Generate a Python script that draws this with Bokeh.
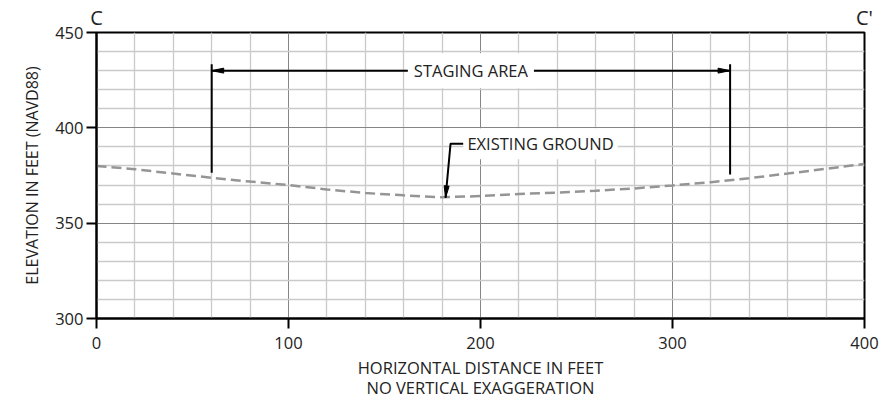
from bokeh.plotting import figure
from bokeh.models import Range1d, FixedTicker, Label, LinearAxis
from bokeh.embed import file_html
from bokeh.resources import INLINE

# ---- data ----
ground_x = [0, 20, 40, 60, 80, 100, 120, 140, 160, 180, 200, 220, 240, 260, 280, 300, 320, 340, 360, 380, 400]
ground_y = [380.0, 378.3, 376.0, 373.8, 371.8, 370.0, 367.7, 365.8, 364.6, 363.6, 364.2, 365.3, 366.0,
            367.0, 368.2, 369.8, 371.5, 373.6, 376.0, 378.5, 381.1]

staging_x = [60, 330]
staging_bottom = [376.4, 375.5]
staging_top = [433.4, 433.4]
staging_arrow_y = 430
staging_label = "STAGING AREA"
staging_label_x = 195

ground_label = "EXISTING GROUND"
leader_x = [191.1, 184.4, 181.8]
leader_y = [391.7, 391.7, 363.3]

x_ticks = [0, 100, 200, 300, 400]
x_minor = [v for v in range(0, 401, 20) if v % 100]
y_ticks = [300, 350, 400, 450]
y_minor = [v for v in range(300, 451, 10) if v % 50]

section_labels = ["C", "C'"]
section_x = [0, 400]

FONT = "Open Sans"
TXT = "#222222"
FS = "16.5px"

p = figure(width=882, height=402, output_backend="svg", toolbar_location=None,
           x_range=Range1d(0, 400), y_range=Range1d(300, 450))
p.min_border_left = 96
p.min_border_top = 32
p.min_border_right = 18
p.min_border_bottom = 82
p.background_fill_color = "white"
p.border_fill_color = "white"
p.outline_line_color = "black"
p.outline_line_width = 2

xt = FixedTicker(ticks=x_ticks, minor_ticks=x_minor)
yt = FixedTicker(ticks=y_ticks, minor_ticks=y_minor)
p.xaxis.ticker = xt
p.yaxis.ticker = yt
p.xgrid.ticker = xt
p.ygrid.ticker = yt
for g in (p.xgrid, p.ygrid):
    g.grid_line_color = "#858585"
    g.grid_line_width = 1
    g.minor_grid_line_color = "#cacaca"
    g.minor_grid_line_width = 1.3

for ax in (p.xaxis, p.yaxis):
    ax.axis_line_color = "black"
    ax.axis_line_width = 2
    ax.major_tick_line_color = "black"
    ax.major_tick_line_width = 2
    ax.major_tick_out = 10
    ax.major_tick_in = 0
    ax.minor_tick_line_color = None
    ax.major_label_text_font = FONT
    ax.major_label_text_font_size = FS
    ax.major_label_text_color = TXT
    ax.axis_label_text_font = FONT
    ax.axis_label_text_font_size = FS
    ax.axis_label_text_color = TXT
    ax.axis_label_text_font_style = "normal"

p.xaxis.axis_label = "HORIZONTAL DISTANCE IN FEET\nNO VERTICAL EXAGGERATION"
p.xaxis.axis_label_text_line_height = 0.9
p.xaxis.major_label_standoff = 8
p.xaxis.axis_label_standoff = 4
p.yaxis.axis_label = "ELEVATION IN FEET (NAVD88)"
p.yaxis.axis_label_text_font_size = "16px"
p.yaxis.major_label_standoff = 3
p.yaxis.axis_label_standoff = 9

# section letters as an axis above the frame
top_axis = LinearAxis(ticker=FixedTicker(ticks=section_x),
                      major_label_overrides={sx: st for sx, st in zip(section_x, section_labels)},
                      axis_line_color=None, major_tick_line_color=None,
                      minor_tick_line_color=None, major_tick_out=0, major_tick_in=0,
                      major_label_standoff=2, major_label_text_font=FONT,
                      major_label_text_font_size="20px", major_label_text_color=TXT)
p.add_layout(top_axis, "above")

# ground line
p.line(ground_x, ground_y, line_color="#959595", line_width=2.5, line_dash="10 5")

# staging area
p.segment(x0=staging_x, y0=staging_bottom, x1=staging_x, y1=staging_top,
          line_color="black", line_width=2)
p.segment(x0=[staging_x[0]], y0=[staging_arrow_y], x1=[staging_x[1]], y1=[staging_arrow_y],
          line_color="black", line_width=2)

# arrowheads (triangles built from the tip and the direction of the line)
UPP = 400 / 768.0
def head(tx, ty, fx, fy, length=12, width=5):
    dx, dy = tx - fx, ty - fy
    n = (dx * dx + dy * dy) ** 0.5
    ux, uy = dx / n, dy / n
    L, W = length * UPP, width * UPP / 2
    bx, by = tx - ux * L, ty - uy * L
    return [tx, bx - uy * W, bx + uy * W], [ty, by + ux * W, by - ux * W]

hx, hy = [], []
for (tx, ty, fx, fy) in [(staging_x[0], staging_arrow_y, staging_label_x, staging_arrow_y),
                         (staging_x[1], staging_arrow_y, staging_label_x, staging_arrow_y),
                         (leader_x[2], leader_y[2], leader_x[1], leader_y[1])]:
    a, b = head(tx, ty, fx, fy)
    hx.append(a); hy.append(b)
p.patches(hx, hy, fill_color="black", line_color="black", line_width=1)

# leader line
p.line(leader_x, leader_y, line_color="black", line_width=2)

# labels
p.add_layout(Label(x=staging_label_x, y=staging_arrow_y, text=staging_label, text_align="center",
                   text_baseline="middle", text_font=FONT, text_font_size=FS, text_color=TXT,
                   background_fill_color="white", padding=6))
p.add_layout(Label(x=leader_x[0], y=leader_y[0], text=ground_label, text_align="left",
                   text_baseline="middle", text_font=FONT, text_font_size=FS, text_color=TXT,
                   background_fill_color="white", padding=4))

open("out.html", "w").write(file_html(p, INLINE))
